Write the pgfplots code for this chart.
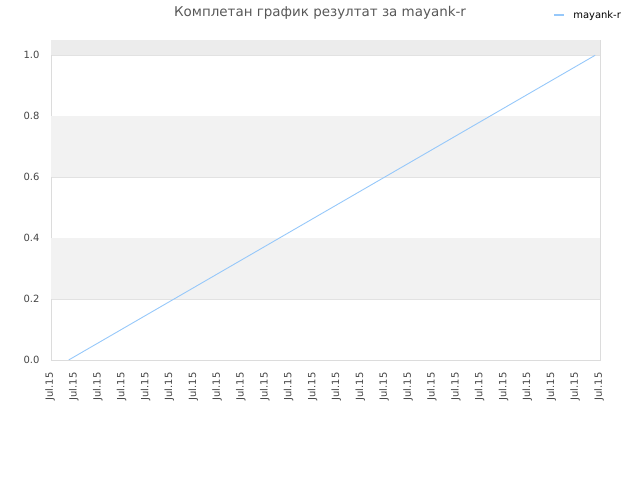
\documentclass[border=0pt]{standalone}
\usepackage{fontspec}
\setmainfont{DejaVu Sans}
\usepackage{pgfplots}
\pgfplotsset{compat=1.18}

\definecolor{seriesblue}{RGB}{150,200,250}
\definecolor{bandgray}{RGB}{242,242,242}
\definecolor{topgray}{RGB}{236,236,236}
\definecolor{bordergray}{RGB}{220,220,220}
\definecolor{gridgray}{RGB}{226,226,226}
\definecolor{labelgray}{RGB}{68,68,68}

\begin{document}
\begin{tikzpicture}
\useasboundingbox (-51bp,-120bp) rectangle (589bp,360bp);
\begin{axis}[
	at={(0,0)}, anchor=south west,
	scale only axis,
	width=549bp, height=320bp,
	xmin=0, xmax=23,
	ymin=0, ymax=1.05,
	xtick={0,1,...,23},
	xticklabels={Jul.15,Jul.15,Jul.15,Jul.15,Jul.15,Jul.15,Jul.15,Jul.15,
		Jul.15,Jul.15,Jul.15,Jul.15,Jul.15,Jul.15,Jul.15,Jul.15,
		Jul.15,Jul.15,Jul.15,Jul.15,Jul.15,Jul.15,Jul.15,Jul.15},
	ytick={0,0.2,0.4,0.6,0.8,1.0},
	ticklabel style={font=\fontsize{10}{12}\selectfont, text=labelgray},
	yticklabel style={xshift=-8bp, /pgf/number format/fixed,
		/pgf/number format/fixed zerofill, /pgf/number format/precision=1,
		/pgf/number format/assume math mode=true},
	xticklabel style={rotate=90, anchor=east, xshift=-9bp, yshift=1bp},
	major tick length=0pt,
	axis line style={bordergray},
	ymajorgrids,
	grid style={gridgray, line width=0.6bp},
	legend style={at={(0.915,1.078)}, anchor=west, draw=none, fill=none,
		inner sep=0pt, column sep=6bp},
	legend image code/.code={\draw[#1, line width=1.8bp] (0bp,0bp) -- (10bp,0bp);},
	]
	\fill[bandgray] (axis cs:0,0.2) rectangle (axis cs:23,0.4);
	\fill[bandgray] (axis cs:0,0.6) rectangle (axis cs:23,0.8);
	\fill[topgray] (axis cs:0,1.0) rectangle (axis cs:23,1.05);
	\addplot[seriesblue, line width=0.9bp] coordinates {(0.74,0) (22.8,1.0)};
	\addlegendentry{\fontsize{10}{12}\selectfont mayank-r}
\end{axis}
\node[text=labelgray!90, font=\fontsize{13.5}{16}\selectfont] at (269bp,347bp) {Комплетан график резултат за mayank-r};
\end{tikzpicture}
\end{document}
